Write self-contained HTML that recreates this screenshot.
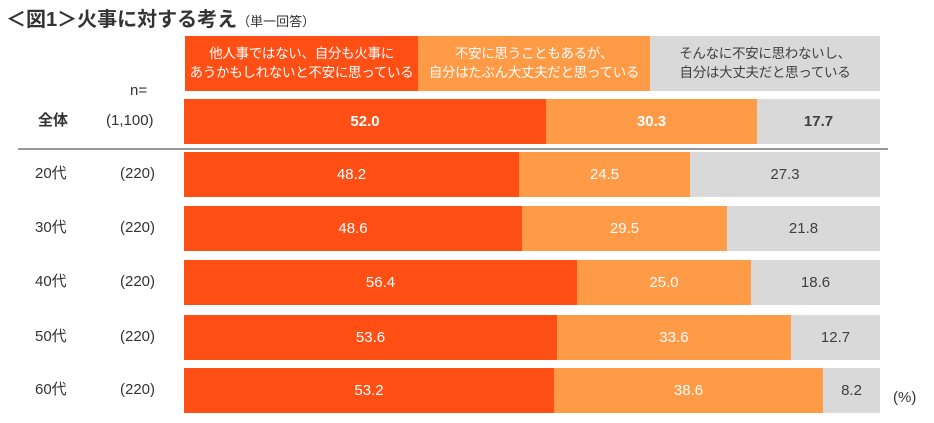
<!DOCTYPE html>
<html><head><meta charset="utf-8"><style>
body{margin:0;width:934px;height:423px;background:#fff;position:relative;overflow:hidden;font-family:"Liberation Sans","Noto Sans CJK JP",sans-serif;}
div{position:absolute;box-sizing:border-box}
.h{top:36px;height:55px;color:#fff;font-size:13.5px;line-height:19px;text-align:center;padding-top:8px;white-space:nowrap;letter-spacing:-0.3px}
.r{background:#FF4F14}.o{background:#FF9A46}.g{background:#D9D9D9}
.s{display:flex;align-items:center;justify-content:center;font-size:15px;color:#fff}
.g.s{color:#404040}
.lab{font-size:15px;color:#333;height:20px;line-height:20px}
</style></head><body>
<div style="left:6px;top:3px;font-size:20px;font-weight:bold;color:#333;white-space:nowrap">＜図1＞火事に対する考え<span style="font-size:13px;font-weight:normal">（単一回答）</span></div>
<div class="h r" style="left:185px;width:233px">他人事ではない、自分も火事に<br>あうかもしれないと不安に思っている</div>
<div class="h o" style="left:418px;width:232px">不安に思うこともあるが、<br>自分はたぶん大丈夫だと思っている</div>
<div class="h g" style="left:650px;width:230px;color:#404040">そんなに不安に思わないし、<br>自分は大丈夫だと思っている</div>
<div class="lab" style="left:130px;top:81px">n=</div>
<div style="left:18px;top:148px;width:870px;height:2px;background:#999"></div>
<div id="rows"></div>
<div class="lab" style="left:893px;top:388px">(%)</div>
<script>
var d=[["全体","(1,100)",52.0,30.3,17.7,99,1],["20代","(220)",48.2,24.5,27.3,152],["30代","(220)",48.6,29.5,21.8,206],["40代","(220)",56.4,25.0,18.6,260],["50代","(220)",53.6,33.6,12.7,315],["60代","(220)",53.2,38.6,8.2,368]];
var h="",W=696,X=184;
d.forEach(function(r){var y=r[5],b=r[6]?"font-weight:bold;":"",x=X;
h+='<div class="lab" style="left:'+(r[6]?38:35)+'px;top:'+(y+12)+'px;'+b+'">'+r[0]+'</div>';
h+='<div class="lab" style="left:'+(r[6]?106:120)+'px;top:'+(y+12)+'px">'+r[1]+'</div>';
[["r",r[2]],["o",r[3]],["g",r[4]]].forEach(function(s,i){var w=(i==2)?X+W-x:Math.round(s[1]/100*W);
h+='<div class="s '+s[0]+'" style="left:'+x+'px;top:'+y+'px;width:'+w+'px;height:45px;'+b+'">'+s[1].toFixed(1)+'</div>';x+=w;});});
document.getElementById("rows").outerHTML=h;
</script>
</body></html>
